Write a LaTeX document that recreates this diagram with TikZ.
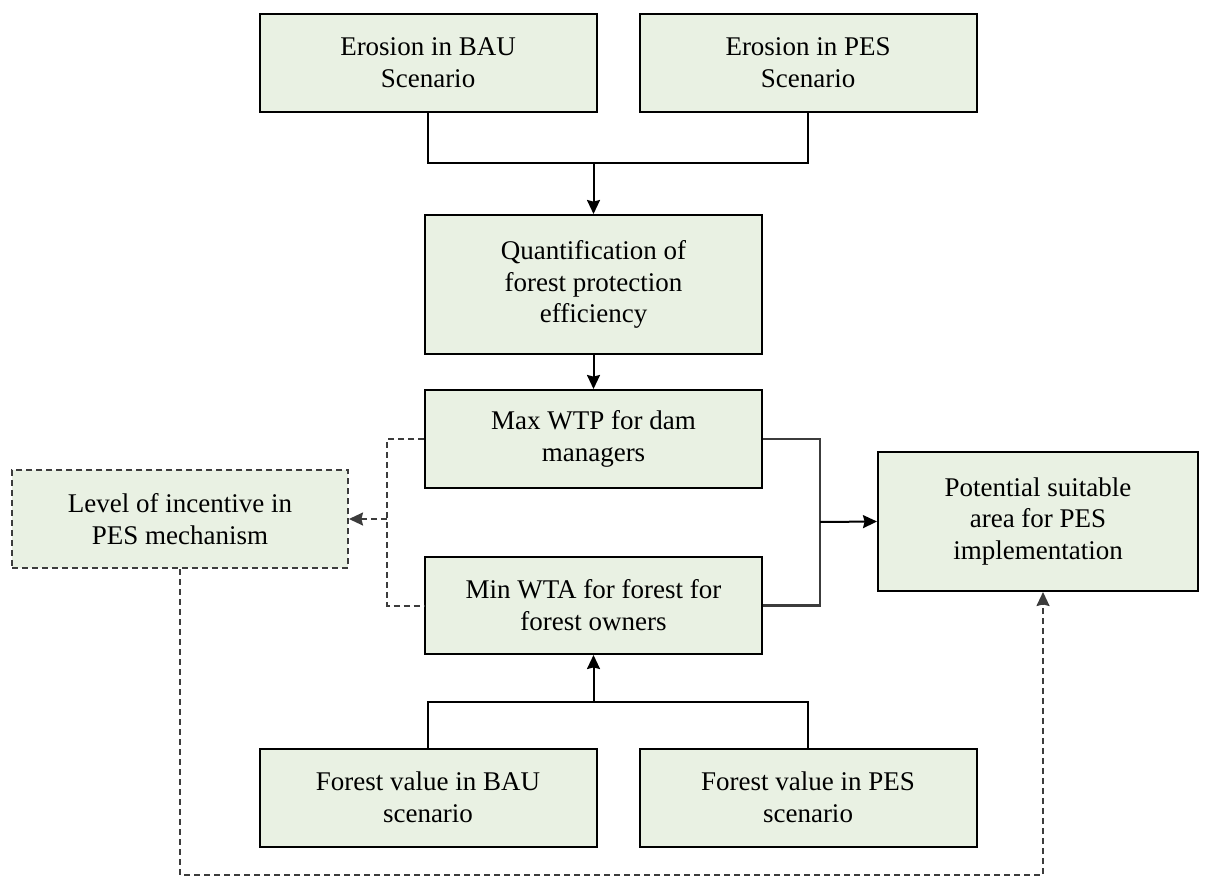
\documentclass[tikz,border=0pt]{standalone}
\usepackage{fontspec}
\setmainfont{Liberation Serif}
\usetikzlibrary{arrows.meta}
\definecolor{boxgreen}{RGB}{233,241,227}
\definecolor{linegray}{RGB}{60,60,60}

\begin{document}
\begin{tikzpicture}[x=0.5pt,y=-0.5pt,
    box/.style={draw=black,fill=boxgreen,line width=1pt,align=center,
        minimum width=168.5pt,minimum height=49pt,inner sep=2pt,
        font=\fontsize{13.5}{15.9}\selectfont},
    dashbox/.style={box,draw=linegray,dash pattern=on 3pt off 2pt},
    link/.style={line width=1pt,draw=black},
    dlink/.style={line width=1pt,draw=linegray,dash pattern=on 3pt off 2pt},
    arr/.style={-{Stealth[length=7pt,width=6.5pt,inset=0.8pt]}}]

\useasboundingbox (0,0) rectangle (1208,877);

\coordinate (topj) at (593.5,163);
\coordinate (botj) at (593.5,702);
\coordinate (rj) at (820,522);
\coordinate (lj) at (387,519);

\node[box] (eroBAU) at (428,63) {Erosion in BAU\\Scenario};
\node[box] (eroPES) at (808,63) {Erosion in PES\\Scenario};
\node[box,minimum height=69.5pt] (quant) at (593.5,284.5) {Quantification of\\forest protection\\efficiency};
\node[box] (maxwtp) at (593.5,439) {Max WTP for dam\\managers};
\node[box,minimum height=48.5pt] (minwta) at (593.5,605.5) {Min WTA for forest for\\forest owners};
\node[dashbox,minimum width=168pt] (level) at (180,519) {Level of incentive in\\PES mechanism};
\node[box,minimum width=160pt,minimum height=69.5pt] (potential) at (1038,521.5) {Potential suitable\\area for PES\\implementation};
\node[box] (forBAU) at (428,797.5) {Forest value in BAU\\scenario};
\node[box] (forPES) at (808,797.5) {Forest value in PES\\scenario};

\draw[link] (eroBAU.south) |- (topj) -| (eroPES.south);
\draw[link,arr] (topj) -- (quant.north);
\draw[link,arr] (quant.south) -- (maxwtp.north);

\draw[link,draw=linegray,line width=1.2pt] (maxwtp.east) -| (rj) |- (minwta.east);
\draw[link,arr] (rj) -- (potential.west);

\draw[dlink] (maxwtp.west) -| (lj) |- (minwta.west);
\draw[dlink,arr] (lj) -- (level.east);

\draw[link] (forBAU.north) |- (botj) -| (forPES.north);
\draw[link,arr] (botj) -- (minwta.south);

\draw[dlink,arr] (level.south) |- (1043,875) -- (potential.south -| 1043,0);
\end{tikzpicture}
\end{document}
